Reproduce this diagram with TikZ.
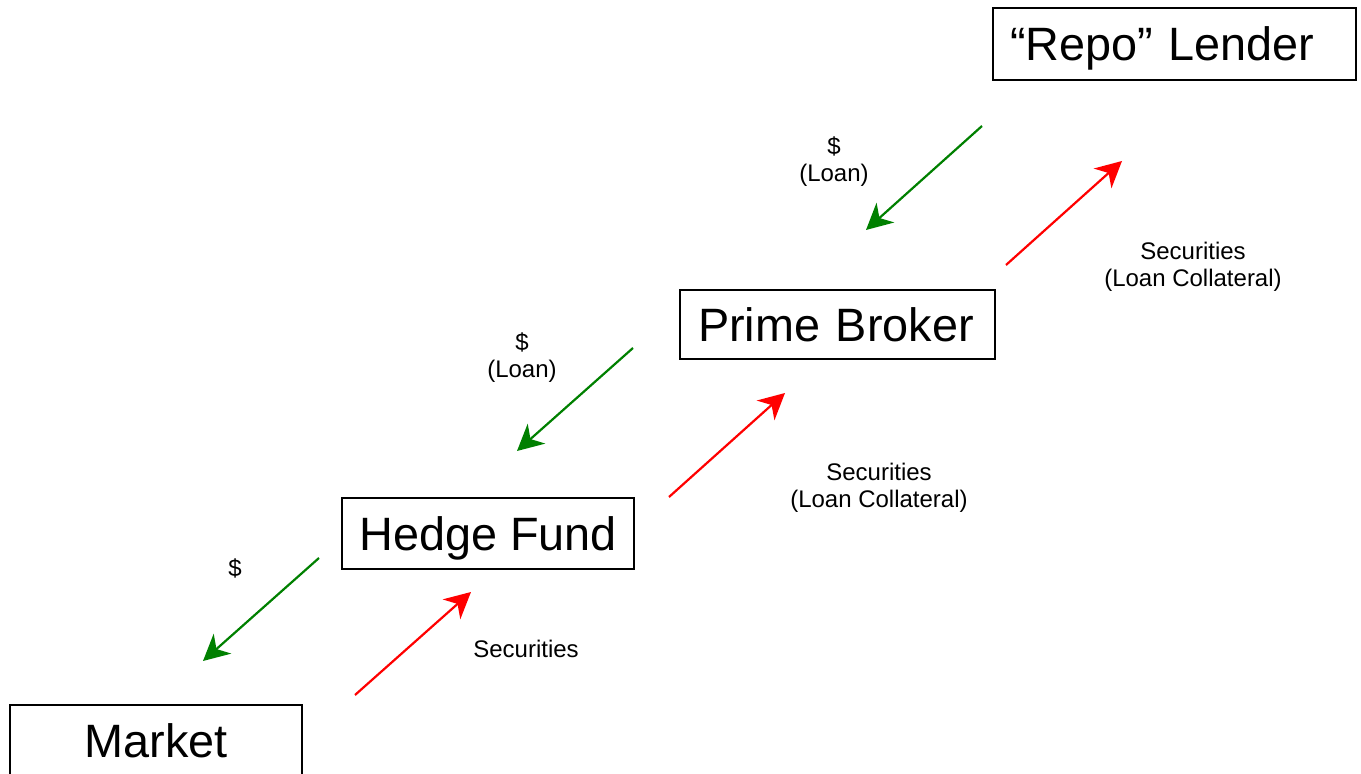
\documentclass[tikz,border=0pt]{standalone}
\usepackage{fontspec}
\setmainfont{Liberation Sans}
\usetikzlibrary{arrows.meta}

\begin{document}
\begin{tikzpicture}[x=0.5pt,y=-0.5pt,
    party/.style={draw,line width=1pt,inner sep=0pt,
      text height=16.7pt,text depth=0pt,
      font=\fontsize{23.4}{28}\selectfont},
    note/.style={align=center,font=\fontsize{12}{13.5}\selectfont},
    flow/.style={line width=1.1pt,
      -{Stealth[length=13pt,width=13.2pt,inset=4pt]}},
    cash/.style={flow,green!50!black},
    sec/.style={flow,red}]
    \useasboundingbox (0,0) rectangle (1361,774);
    %
    \node[party,minimum width=181.5pt,minimum height=36pt,
      text width=164.5pt,align=left,inner xsep=8.5pt] (lender) at (1174.5,44) {“Repo” Lender};
    \node[party,minimum width=157.5pt,minimum height=34.5pt,
      text width=139.5pt,align=left,inner xsep=9pt] (broker) at (837.5,324.5) {Prime Broker};
    \node[party,minimum width=146pt,minimum height=35.5pt] (fund) at (488,533.5) {Hedge Fund};
    \node[party,minimum width=146pt,minimum height=36pt] (market) at (156,741) {Market};
    %
    \coordinate (cash1a) at (982,126);  \coordinate (cash1b) at (866,230);
    \coordinate (cash2a) at (633,348);  \coordinate (cash2b) at (517,451);
    \coordinate (cash3a) at (319,558);  \coordinate (cash3b) at (203,661);
    \coordinate (sec1a) at (1006,265);  \coordinate (sec1b) at (1122,161);
    \coordinate (sec2a) at (669,497);   \coordinate (sec2b) at (785,393);
    \coordinate (sec3a) at (355,695);   \coordinate (sec3b) at (471,592);
    %
    \draw[cash] (cash1a) -- (cash1b);
    \draw[cash] (cash2a) -- (cash2b);
    \draw[cash] (cash3a) -- (cash3b);
    \draw[sec] (sec1a) -- (sec1b);
    \draw[sec] (sec2a) -- (sec2b);
    \draw[sec] (sec3a) -- (sec3b);
    %
    \node[note] (loan1) at (834,162) {\$\\(Loan)};
    \node[note] (loan2) at (522,358) {\$\\(Loan)};
    \node[note] (buy) at (235,568) {\$};
    \node[note] (coll1) at (1193,267) {Securities\\(Loan Collateral)};
    \node[note] (coll2) at (879,488) {Securities\\(Loan Collateral)};
    \node[note] (sold) at (526,649) {Securities};
\end{tikzpicture}
\end{document}
